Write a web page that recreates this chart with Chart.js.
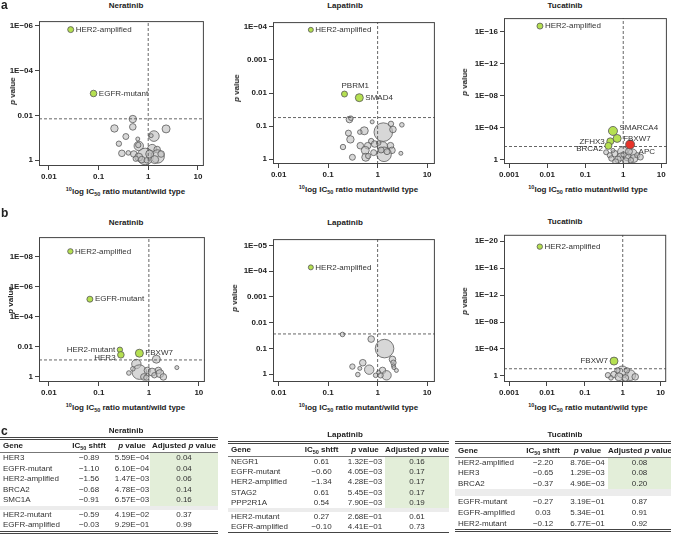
<!DOCTYPE html>
<html>
<head>
<meta charset="utf-8">
<title>HER2 inhibitor volcano plots</title>
<script src="https://cdn.jsdelivr.net/npm/chart.js@4.4.1/dist/chart.umd.min.js"></script>
<style>
  body { margin: 0; background: #fff; font-family: "Liberation Sans", Arial, Helvetica, sans-serif; color: #222;
         -webkit-font-smoothing: antialiased; }
  #fig { position: relative; width: 673px; height: 534px; overflow: hidden; }
  #fig canvas { position: absolute; }
  .lbl { position: absolute; white-space: nowrap; font-weight: bold; line-height: 10px; }
  .letter { font-size: 12px; line-height: 12px; }
  .ptitle { font-size: 8px; transform: translateX(-50%); }
  .xtitle { font-size: 8px; transform: translate(-50%, -50%); }
  .ytitle { font-size: 8px; transform: translate(-50%, -50%) rotate(-90deg); }
  .lbl sup, .lbl sub, .tbl sub { font-size: 5.5px; vertical-align: baseline; position: relative; }
  .lbl sup { top: -3px; }
  .lbl sub, .tbl sub { top: 2px; }
  .tbl { position: absolute; font-size: 8px; color: #333; }
  .tbl .ttl { position: absolute; top: -11px; font-weight: bold; font-size: 8px; color: #222; white-space: nowrap;
              transform: translateX(-50%); }
  .tbl .rule2 { border-top: 3px double #444; }
  .tbl .rule1 { border-top: 1px solid #777; }
  .tbl .row { display: flex; }
  .tbl .c { text-align: center; white-space: nowrap; overflow: hidden; }
  .tbl .c0 { text-align: left; padding-left: 3px; box-sizing: border-box; }
  .tbl .hdr { font-weight: bold; color: #222; }
  .tbl .sig { background: #e3eed9; }
  .tbl .band { background: #ececec; }
</style>
</head>
<body>
<div id="fig"></div>
<script>
// ===== Dữ liệu: x = log10(IC50 tỉ lệ đột biến/hoang dã), y = -log10(p) =====

// Trục x chung
const decTicks = [-2, -1, 0, 1];
const decLabels = ['0.01', '0.1', '1', '10'];
const tucTicks = [-3, -2, -1, 0, 1];
const tucLabels = ['0.001', '0.01', '0.1', '1', '10'];

// --- a: Neratinib ---
const nerA_grayX = [-0.31, -0.31, -0.68, 0.36, 0.115, 0.06, -0.45, -0.21, -0.59, -0.19, -0.20, 0.08, 0.18, -0.53, -0.40, -0.29, -0.06, 0.19, 0.03, -0.19, 0.26, -0.25, -0.13, 0.13, -0.03];
const nerA_grayY = [1.84, 1.49, 1.42, 1.40, 1.08, 1.10, 1.06, 0.95, 0.74, 0.64, 0.68, 0.50, 0.48, 0.31, 0.33, 0.28, 0.17, 0.17, 0.28, 0.14, 0.28, 0.07, 0.03, 0.03, 0.00];
const nerA_grayN = [3.7, 3.3, 3.7, 4, 5.3, 2, 3, 2, 2.7, 4.7, 2.7, 4.7, 3.3, 3.3, 2.3, 3.3, 8.3, 6.7, 4, 4, 3.3, 2.7, 3.3, 4, 2.7];
const nerA_hitGenes = ['HER2-amplified', 'EGFR-mutant'];
const nerA_hitX = [-1.56, -1.10];
const nerA_hitY = [5.83, 2.98];
const nerA_hitN = [3, 3.3];
const nerA_hitClass = ['sens', 'sens'];
const nerA_cutoff = 1.85;
const nerA_yTicks = [0, 2, 4, 6];
const nerA_yLabels = ['1', '0.01', '1E\u221204', '1E\u221206'];

// --- a: Lapatinib ---
const lapA_grayX = [-0.57, -0.54, -0.11, 0.115, 0.27, 0.31, 0.49, -0.27, -0.36, -0.59, -0.55, -0.13, -0.70, -0.35, -0.20, -0.06, 0.10, 0.26, 0.29, -0.25, -0.08, 0.13, -0.51, -0.24, -0.19, 0.47, 0.07, 0.19, 0.02];
const lapA_grayY = [1.20, 1.24, 1.13, 0.82, 1.07, 0.90, 1.04, 0.86, 0.82, 0.79, 0.60, 0.55, 0.37, 0.41, 0.41, 0.46, 0.37, 0.41, 0.27, 0.27, 0.20, 0.15, 0.06, 0.06, 0.10, 0.18, 0.28, 0.23, 0.49];
const lapA_grayN = [3.3, 2.3, 2, 9.3, 2.7, 3.3, 2.3, 4, 2.3, 3, 3.7, 2.7, 2.7, 3.3, 3.3, 3.3, 5.3, 3.3, 3.3, 4, 3, 7.3, 3, 4, 2.7, 2, 3, 3, 2.3];
const lapA_hitGenes = ['HER2-amplified', 'PBRM1', 'SMAD4'];
const lapA_hitX = [-1.35, -0.67, -0.37];
const lapA_hitY = [3.91, 1.97, 1.86];
const lapA_hitN = [2.5, 3, 4];
const lapA_hitClass = ['sens', 'sens', 'sens'];
const lapA_cutoff = 1.26;
const lapA_yTicks = [0, 1, 2, 3, 4];
const lapA_yLabels = ['1', '0.1', '0.01', '0.001', '1E\u221204'];

// --- a: Tucatinib ---
const tucA_grayX = [-0.01, -0.23, 0.24, -0.35, -0.06, 0.11, -0.14, 0.28, -0.31, 0.07, 0.20, 0.01, 0.37, -0.27, 0.45, -0.45, 0.15, -0.20];
const tucA_grayY = [0.93, 0.73, 0.73, 0.52, 0.32, 0.32, 0.00, 0.12, 0.12, -0.20, -0.09, 0.61, 0.52, 1.13, 0.30, 0.90, 1.00, -0.30];
const tucA_grayN = [5.3, 3.3, 4.7, 2.7, 4, 4, 3.3, 4, 2.7, 3.3, 2.7, 2.7, 2.7, 2, 3, 2.5, 3.5, 3];
const tucA_hitGenes = ['HER2-amplified', 'SMARCA4', 'FBXW7', 'ZFHX3', 'BRCA2', 'APC'];
const tucA_hitX = [-2.19, -0.27, -0.16, -0.34, -0.39, 0.18];
const tucA_hitY = [16.7, 3.57, 2.63, 2.27, 1.70, 1.87];
const tucA_hitN = [3, 4.5, 4, 3.5, 3.5, 4.5];
const tucA_hitClass = ['sens', 'sens', 'sens', 'sens', 'sens', 'res'];
const tucA_cutoff = 1.62;
const tucA_yTicks = [0, 4, 8, 12, 16];
const tucA_yLabels = ['1', '1E\u221204', '1E\u221208', '1E\u221212', '1E\u221216'];

// --- b: Neratinib ---
const nerB_grayX = [0.15, -0.25, -0.19, -0.03, 0.065, 0.19, 0.22, 0.56, -0.40, -0.32, 0.11, 0.29, -0.10, -0.05];
const nerB_grayY = [1.18, 0.86, 0.32, 0.43, 0.32, 0.43, 0.22, 0.62, 0.26, 0.54, 0.11, 0.00, 0.00, -0.05];
const nerB_grayN = [4, 4.7, 7.3, 3.3, 4, 3.3, 4, 2, 2.3, 2.3, 2.7, 3.3, 3.3, 2.7];
const nerB_hitGenes = ['HER2-amplified', 'EGFR-mutant', 'HER2-mutant', 'HER3', 'FBXW7'];
const nerB_hitX = [-1.57, -1.18, -0.58, -0.56, -0.19];
const nerB_hitY = [8.37, 5.18, 1.81, 1.47, 1.58];
const nerB_hitN = [2.7, 3, 2.7, 3.3, 4];
const nerB_hitClass = ['sens', 'sens', 'sens', 'sens', 'sens'];
const nerB_cutoff = 1.13;
const nerB_yTicks = [0, 2, 4, 6, 8];
const nerB_yLabels = ['1', '0.01', '1E\u221204', '1E\u221206', '1E\u221208'];

// --- b: Lapatinib ---
const lapB_grayX = [-0.71, -0.13, 0.14, 0.30, 0.32, 0.32, 0.33, -0.30, -0.51, -0.36, -0.17, -0.40, -0.04, 0.10, 0.18, 0.06, 0.38, 0.02];
const lapB_grayY = [1.54, 1.36, 0.99, 0.57, 0.44, 0.32, 0.25, 0.44, 0.29, 0.22, 0.17, -0.02, -0.05, 0.14, -0.05, -0.05, 0.14, 0.07];
const lapB_grayN = [2.3, 3.3, 9.3, 3.3, 2.7, 2, 2, 3.3, 2.7, 2, 4.7, 2.3, 2.3, 3.3, 4.7, 2.7, 2, 2];
const lapB_hitGenes = ['HER2-amplified'];
const lapB_hitX = [-1.35];
const lapB_hitY = [4.15];
const lapB_hitN = [2.5];
const lapB_hitClass = ['sens'];
const lapB_cutoff = 1.56;
const lapB_yTicks = [0, 1, 2, 3, 4, 5];
const lapB_yLabels = ['1', '0.1', '0.01', '0.001', '1E\u221204', '1E\u221205'];

// --- b: Tucatinib ---
const tucB_grayX = [-0.01, -0.23, 0.20, -0.39, -0.10, 0.07, 0.33, -0.31, 0.11, -0.14];
const tucB_grayY = [0.58, 0.20, 0.10, 0.10, -0.14, -0.30, -0.14, -0.30, 0.82, 0.82];
const tucB_grayN = [6, 3.3, 5.3, 2.7, 4, 3.3, 3.3, 2.3, 2.7, 2.7];
const tucB_hitGenes = ['HER2-amplified', 'FBXW7'];
const tucB_hitX = [-2.19, -0.23];
const tucB_hitY = [19.2, 2.2];
const tucB_hitN = [2.7, 4];
const tucB_hitClass = ['sens', 'sens'];
const tucB_cutoff = 1.06;
const tucB_yTicks = [0, 4, 8, 12, 16, 20];
const tucB_yLabels = ['1', '1E\u221204', '1E\u221208', '1E\u221212', '1E\u221216', '1E\u221220'];

// --- c: bảng ---
const nerT_genes = ['HER3', 'EGFR-mutant', 'HER2-amplified', 'BRCA2', 'SMC1A', 'HER2-mutant', 'EGFR-amplified'];
const nerT_shift = [-0.89, -1.10, -1.56, -0.68, -0.91, -0.59, -0.03];
const nerT_p = [5.59e-4, 6.10e-4, 1.47e-3, 4.78e-3, 6.57e-3, 4.19e-2, 9.29e-1];
const nerT_adj = [0.04, 0.04, 0.06, 0.14, 0.16, 0.37, 0.99];
const nerT_nSig = 5;

const lapT_genes = ['NEGR1', 'EGFR-mutant', 'HER2-amplified', 'STAG2', 'PPP2R1A', 'HER2-mutant', 'EGFR-amplified'];
const lapT_shift = [0.61, -0.60, -1.34, 0.61, 0.54, 0.27, -0.10];
const lapT_p = [1.32e-3, 4.05e-3, 4.28e-3, 5.45e-3, 7.90e-3, 2.68e-1, 4.41e-1];
const lapT_adj = [0.16, 0.17, 0.17, 0.17, 0.19, 0.61, 0.73];
const lapT_nSig = 5;

const tucT_genes = ['HER2-amplified', 'HER3', 'BRCA2', 'EGFR-mutant', 'EGFR-amplified', 'HER2-mutant'];
const tucT_shift = [-2.20, -0.65, -0.37, -0.27, 0.03, -0.12];
const tucT_p = [8.76e-4, 1.29e-3, 4.96e-3, 3.19e-1, 5.34e-1, 6.77e-1];
const tucT_adj = [0.08, 0.08, 0.20, 0.87, 0.91, 0.92];
const tucT_nSig = 3;

// ===== Kiểu dáng =====
const FONT = '"Liberation Sans", Arial, Helvetica, sans-serif';
const INK = '#444';
const GRAY_FILL = 'rgba(190,190,190,0.62)';
const HIT_FILL = { sens: '#b5e051', res: '#e8332a' };
Chart.defaults.font.family = FONT;
Chart.defaults.color = '#222';

const fig = document.getElementById('fig');

// Khung bao quanh vùng vẽ (kiểu R box())
const framePlugin = {
  id: 'frame',
  afterDraw(chart) {
    const { left, top, right, bottom } = chart.chartArea;
    const ctx = chart.ctx;
    ctx.save();
    ctx.strokeStyle = INK;
    ctx.lineWidth = 1;
    ctx.strokeRect(left + 0.5, top + 0.5, right - left - 1, bottom - top - 1);
    ctx.restore();
  }
};

// Nhãn tên gen cạnh các điểm nổi bật
const hitLabelPlugin = {
  id: 'hitLabels',
  afterDatasetsDraw(chart, args, opts) {
    const meta = chart.getDatasetMeta(0);
    const ctx = chart.ctx;
    ctx.save();
    ctx.font = '8px ' + FONT;
    ctx.fillStyle = '#333';
    ctx.textBaseline = 'middle';
    meta.data.forEach((el, i) => {
      const r = chart.data.datasets[0].data[i].r;
      const side = opts.sides[i];
      let x = el.x, y = el.y;
      if (side === 'left') { ctx.textAlign = 'right'; x -= r + 2; }
      else if (side === 'leftdown') { ctx.textAlign = 'right'; x -= r + 2; y += 3; }
      else if (side === 'up') { ctx.textAlign = 'left'; x -= r; y -= r + 5; }
      else if (side === 'rightup') { ctx.textAlign = 'left'; x += r + 2; y -= 3; }
      else if (side === 'rightdown') { ctx.textAlign = 'left'; x += r + 4; y += 7; }
      else { ctx.textAlign = 'left'; x += r + 2; }
      ctx.fillText(opts.names[i], x, y);
    });
    ctx.restore();
  }
};

const PAD_T = 2, PAD_R = 1, X_AXIS_H = 20;

function zip(xs, ys, rs) {
  return xs.map((x, i) => ({ x: x, y: ys[i], r: rs[i] }));
}

function addLabel(cls, html, x, y) {
  const d = document.createElement('div');
  d.className = 'lbl ' + cls;
  d.innerHTML = html;
  d.style.left = x + 'px';
  d.style.top = y + 'px';
  fig.appendChild(d);
}

// Tạo một biểu đồ núi lửa
function makePanel(p) {
  const cv = document.createElement('canvas');
  const w = p.box.r - p.left + PAD_R;
  const h = p.box.b - p.box.t + PAD_T + X_AXIS_H;
  cv.width = w; cv.height = h;
  cv.style.width = w + 'px'; cv.style.height = h + 'px';
  cv.style.left = p.left + 'px';
  cv.style.top = (p.box.t - PAD_T) + 'px';
  fig.appendChild(cv);

  const yAxisW = p.box.l - p.left;
  const tickFont = { size: 8, weight: 'bold', family: FONT };
  const dashed = {
    type: 'line', borderColor: '#555', borderWidth: 0.9, borderDash: [3, 2],
    pointRadius: 0, fill: false, tension: 0
  };

  new Chart(cv, {
    type: 'bubble',
    data: {
      datasets: [
        {
          // điểm có ý nghĩa
          data: zip(p.hitX, p.hitY, p.hitN),
          backgroundColor: p.hitClass.map(c => HIT_FILL[c]),
          borderColor: '#555', borderWidth: 0.8, order: 0
        },
        Object.assign({ data: [{ x: 0, y: p.y[0] }, { x: 0, y: p.y[1] }], order: 1 }, dashed),
        Object.assign({ data: [{ x: p.x[0], y: p.cutoff }, { x: p.x[1], y: p.cutoff }], order: 1 }, dashed),
        {
          // các gen còn lại
          data: zip(p.grayX, p.grayY, p.grayN),
          backgroundColor: GRAY_FILL, borderColor: '#5a5a5a', borderWidth: 0.8, order: 2
        }
      ]
    },
    options: {
      responsive: false,
      animation: false,
      events: [],
      layout: { padding: { top: PAD_T, right: PAD_R, left: 0, bottom: 0 } },
      plugins: {
        legend: { display: false },
        tooltip: { enabled: false },
        hitLabels: { names: p.hitGenes, sides: p.sides }
      },
      scales: {
        x: {
          type: 'linear', min: p.x[0], max: p.x[1],
          afterBuildTicks: s => { s.ticks = p.xTicks.map(v => ({ value: v })); },
          afterFit: s => { s.height = X_AXIS_H; s.paddingLeft = 0; s.paddingRight = 0; },
          ticks: {
            callback: v => p.xLabels[p.xTicks.indexOf(v)],
            font: tickFont, color: '#222', padding: 2, autoSkip: false, maxRotation: 0, minRotation: 0
          },
          grid: { drawOnChartArea: false, drawTicks: true, tickLength: 4, color: INK },
          border: { display: false }
        },
        y: {
          type: 'linear', min: p.y[0], max: p.y[1],
          afterBuildTicks: s => { s.ticks = p.yTicks.map(v => ({ value: v })); },
          afterFit: s => { s.width = yAxisW; s.paddingTop = 0; s.paddingBottom = 0; },
          ticks: {
            callback: v => p.yLabels[p.yTicks.indexOf(v)],
            font: tickFont, color: '#222', padding: 2, autoSkip: false
          },
          grid: { drawOnChartArea: false, drawTicks: true, tickLength: 4, color: INK },
          border: { display: false }
        }
      }
    },
    plugins: [framePlugin, hitLabelPlugin]
  });

  // Tiêu đề và nhãn trục (HTML để có chỉ số trên/dưới)
  const cx = (p.box.l + p.box.r) / 2;
  addLabel('ptitle', p.title, p.titleX, p.box.t - 13);
  addLabel('xtitle', '<sup>10</sup>log IC<sub>50</sub> ratio mutant/wild type', cx, p.box.b + 26);
  addLabel('ytitle', '<i>p</i> value', p.yTitle[0], p.yTitle[1]);
}

// ===== Bố cục các biểu đồ =====
const panels = [
  { title: 'Neratinib', titleX: 126, left: 0, box: { l: 39, t: 14, r: 212, b: 166 }, x: [-2.198, 1.121], y: [-0.255, 6.21], yTitle: [13, 91],
    grayX: nerA_grayX, grayY: nerA_grayY, grayN: nerA_grayN, hitGenes: nerA_hitGenes, hitX: nerA_hitX, hitY: nerA_hitY,
    hitN: nerA_hitN, hitClass: nerA_hitClass, cutoff: nerA_cutoff, xTicks: decTicks, xLabels: decLabels,
    yTicks: nerA_yTicks, yLabels: nerA_yLabels, sides: ['right', 'right'] },
  { title: 'Lapatinib', titleX: 345, left: 228, box: { l: 273, t: 14, r: 444, b: 164 }, x: [-2.115, 1.158], y: [-0.143, 4.143], yTitle: [237, 88],
    grayX: lapA_grayX, grayY: lapA_grayY, grayN: lapA_grayN, hitGenes: lapA_hitGenes, hitX: lapA_hitX, hitY: lapA_hitY,
    hitN: lapA_hitN, hitClass: lapA_hitClass, cutoff: lapA_cutoff, xTicks: decTicks, xLabels: decLabels,
    yTicks: lapA_yTicks, yLabels: lapA_yLabels, sides: ['right', 'up', 'right'] },
  { title: 'Tucatinib', titleX: 565, left: 452, box: { l: 504, t: 14, r: 672, b: 164 }, x: [-3.135, 1.148], y: [-0.57, 17.7], yTitle: [465, 82],
    grayX: tucA_grayX, grayY: tucA_grayY, grayN: tucA_grayN, hitGenes: tucA_hitGenes, hitX: tucA_hitX, hitY: tucA_hitY,
    hitN: tucA_hitN, hitClass: tucA_hitClass, cutoff: tucA_cutoff, xTicks: tucTicks, xLabels: tucLabels,
    yTicks: tucA_yTicks, yLabels: tucA_yLabels, sides: ['right', 'rightup', 'right', 'left', 'leftdown', 'rightdown'] },
  { title: 'Neratinib', titleX: 126, left: 0, box: { l: 39, t: 231, r: 212, b: 382 }, x: [-2.198, 1.121], y: [-0.34, 9.32], yTitle: [11, 300],
    grayX: nerB_grayX, grayY: nerB_grayY, grayN: nerB_grayN, hitGenes: nerB_hitGenes, hitX: nerB_hitX, hitY: nerB_hitY,
    hitN: nerB_hitN, hitClass: nerB_hitClass, cutoff: nerB_cutoff, xTicks: decTicks, xLabels: decLabels,
    yTicks: nerB_yTicks, yLabels: nerB_yLabels, sides: ['right', 'right', 'left', 'leftdown', 'right'] },
  { title: 'Lapatinib', titleX: 345, left: 228, box: { l: 273, t: 231, r: 444, b: 382 }, x: [-2.115, 1.158], y: [-0.31, 5.25], yTitle: [235, 298],
    grayX: lapB_grayX, grayY: lapB_grayY, grayN: lapB_grayN, hitGenes: lapB_hitGenes, hitX: lapB_hitX, hitY: lapB_hitY,
    hitN: lapB_hitN, hitClass: lapB_hitClass, cutoff: lapB_cutoff, xTicks: decTicks, xLabels: decLabels,
    yTicks: lapB_yTicks, yLabels: lapB_yLabels, sides: ['right'] },
  { title: 'Tucatinib', titleX: 565, left: 452, box: { l: 504, t: 230, r: 672, b: 382 }, x: [-3.135, 1.148], y: [-0.91, 20.96], yTitle: [465, 301],
    grayX: tucB_grayX, grayY: tucB_grayY, grayN: tucB_grayN, hitGenes: tucB_hitGenes, hitX: tucB_hitX, hitY: tucB_hitY,
    hitN: tucB_hitN, hitClass: tucB_hitClass, cutoff: tucB_cutoff, xTicks: tucTicks, xLabels: tucLabels,
    yTicks: tucB_yTicks, yLabels: tucB_yLabels, sides: ['right', 'left'] }
];
panels.forEach(makePanel);

addLabel('letter', 'a', 1, -1);
addLabel('letter', 'b', 1, 207);
addLabel('letter', 'c', 1, 425);

// ===== Bảng (c) =====
function minus(s) { return s.replace('-', '\u2212'); }
function fmtP(v) {
  const parts = v.toExponential(2).split('e');
  const e = parseInt(parts[1], 10);
  return parts[0] + 'E' + (e < 0 ? '\u2212' : '+') + String(Math.abs(e)).padStart(2, '0');
}

function makeTable(t) {
  const box = document.createElement('div');
  box.className = 'tbl';
  box.style.left = t.left + 'px';
  box.style.top = t.top + 'px';
  const W = t.cols.reduce((a, b) => a + b, 0);
  box.style.width = W + 'px';
  let html = '<div class="ttl" style="left:' + (t.titleX - t.left) + 'px">' + t.title + '</div><div class="rule2"></div>';
  const cell = (i, txt, extra) =>
    '<div class="c' + (i === 0 ? ' c0' : '') + (extra || '') + '" style="width:' + t.cols[i] + 'px">' + txt + '</div>';
  html += '<div class="row hdr" style="height:' + t.hdrH + 'px;line-height:' + t.hdrH + 'px">' +
    cell(0, 'Gene') + cell(1, 'IC<sub>50</sub> shtft') + cell(2, '<i>p</i> value') + cell(3, 'Adjusted <i>p</i> value') + '</div>';
  html += '<div class="rule1"></div>';
  t.genes.forEach((g, i) => {
    if (i === t.nSig) html += '<div class="band" style="height:' + t.bandH + 'px"></div>';
    const rh = i < t.nSig ? t.rowH : t.rowH2;
    html += '<div class="row" style="height:' + rh + 'px;line-height:' + rh + 'px">' +
      cell(0, g) + cell(1, minus(t.shift[i].toFixed(2))) + cell(2, fmtP(t.p[i])) +
      cell(3, t.adj[i].toFixed(2), i < t.nSig ? ' sig' : '') + '</div>';
  });
  html += '<div class="rule2"></div>';
  box.innerHTML = html;
  fig.appendChild(box);
}

makeTable({ title: 'Neratinib', titleX: 126, left: 0, top: 437, cols: [64, 50, 36, 68], hdrH: 12, rowH: 10.6, rowH2: 10.5, bandH: 4,
  genes: nerT_genes, shift: nerT_shift, p: nerT_p, adj: nerT_adj, nSig: nerT_nSig });
makeTable({ title: 'Lapatinib', titleX: 345, left: 228, top: 441, cols: [70, 47, 40, 64], hdrH: 12, rowH: 10.2, rowH2: 10, bandH: 4,
  genes: lapT_genes, shift: lapT_shift, p: lapT_p, adj: lapT_adj, nSig: lapT_nSig });
makeTable({ title: 'Tucatinib', titleX: 565, left: 455, top: 441, cols: [64, 48, 41, 63], hdrH: 13, rowH: 10.3, rowH2: 11, bandH: 7,
  genes: tucT_genes, shift: tucT_shift, p: tucT_p, adj: tucT_adj, nSig: tucT_nSig });
</script>
</body>
</html>
